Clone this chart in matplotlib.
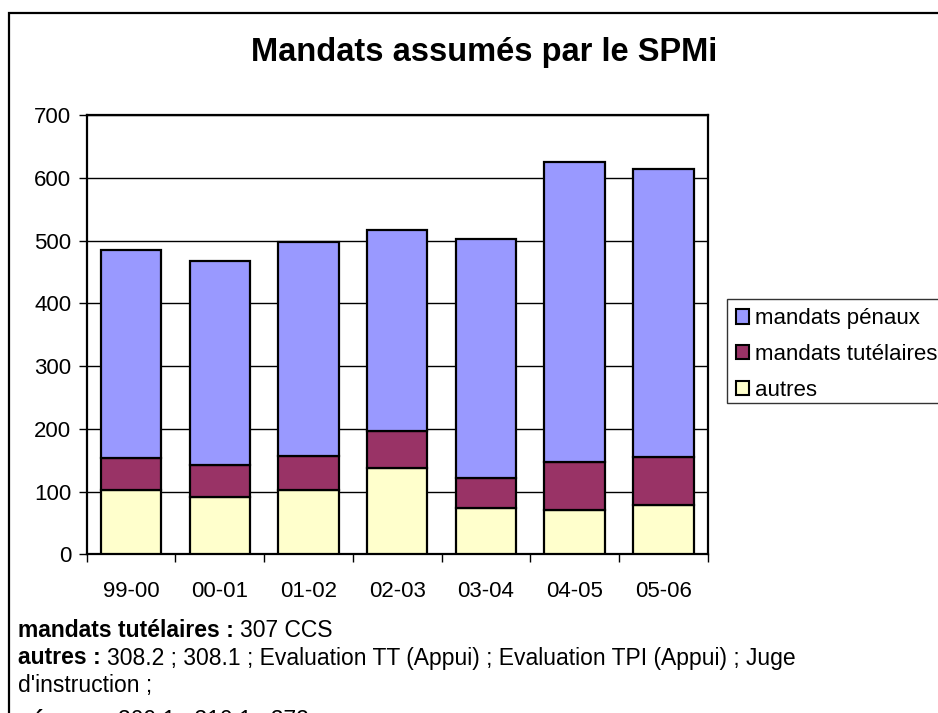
import matplotlib
matplotlib.use("Agg")
import matplotlib.pyplot as plt
from matplotlib.patches import Rectangle, Patch
import numpy as np

plt.rcParams['font.family'] = ['Liberation Sans', 'DejaVu Sans']

categories = ["99-00", "00-01", "01-02", "02-03", "03-04", "04-05", "05-06"]
autres = [102, 91, 102, 137, 74, 71, 78]
tutelaires = [51, 52, 54, 59, 47, 76, 77]
penaux = [332, 324, 342, 320, 382, 478, 459]
series_labels = ["mandats pénaux", "mandats tutélaires", "autres"]
title = "Mandats assumés par le SPMi"
yticks = [0, 100, 200, 300, 400, 500, 600, 700]

W, H = 938, 713
fig = plt.figure(figsize=(W / 100, H / 100), dpi=100)

# outer border
fig.patches.append(Rectangle((9 / W, -0.2), 1.2, 1.2 - 13 / H,
                             transform=fig.transFigure, fill=False,
                             edgecolor='black', linewidth=1.6))

ax = fig.add_axes([86.7 / W, 1 - 554.3 / H, (707.7 - 86.7) / W, (554.3 - 115) / H])
x = np.arange(len(categories))
bw = 0.68
ek = dict(edgecolor='black', linewidth=1.6, zorder=3)
ax.bar(x, autres, bw, color='#FFFFCC', **ek)
bottom2 = np.array(autres)
ax.bar(x, tutelaires, bw, bottom=bottom2, color='#993366', **ek)
bottom3 = bottom2 + np.array(tutelaires)
ax.bar(x, penaux, bw, bottom=bottom3, color='#9999FF', **ek)

ax.set_xlim(-0.5, len(categories) - 0.5)
ax.set_ylim(0, 700)
ax.set_yticks(yticks)
ax.yaxis.grid(True, color='black', linewidth=1.0, zorder=0)
ax.set_axisbelow(True)
ax.set_xticks(x)
ax.set_xticklabels(categories)
ax.set_xticks(np.arange(-0.5, len(categories)), minor=True)
ax.tick_params(axis='x', which='major', length=0, pad=19, labelsize=16)
ax.tick_params(axis='x', which='minor', length=6, width=1.0, direction='out')
ax.tick_params(axis='y', which='major', length=6, width=1.0, pad=5, labelsize=16)
for s in ax.spines.values():
    s.set_linewidth(1.6)
    s.set_color('black')

fig.text(484 / W, 1 - 53 / H, title, ha='center', va='center',
         fontsize=23.5, fontweight='bold')

# legend frame (drawn separately for exact placement)
fig.patches.append(Rectangle((726.7 / W, 1 - 403 / H), 0.5, (403 - 299) / H,
                             transform=fig.transFigure, fill=True, facecolor='white',
                             edgecolor='#333333', linewidth=1.0))
handles = [Patch(facecolor='#9999FF', edgecolor='black', linewidth=1.5),
           Patch(facecolor='#993366', edgecolor='black', linewidth=1.5),
           Patch(facecolor='#FFFFCC', edgecolor='black', linewidth=1.5)]
leg = fig.legend(handles, series_labels, loc='upper left',
                 bbox_to_anchor=(726.7 / W, 1 - 299 / H), fontsize=16,
                 handlelength=0.6, handleheight=0.6, handletextpad=0.25,
                 labelspacing=0.66, borderpad=0.42, borderaxespad=0,
                 frameon=False)

# footer notes
notes = [("mandats tutélaires : ", "307 CCS"),
         ("autres : ", "308.2 ; 308.1 ; Evaluation TT (Appui) ; Evaluation TPI (Appui) ; Juge"),
         ("", "d'instruction ;"),
         ("pénaux : ", "309.1 ; 310.1 ; 372")]
fig.canvas.draw()
renderer = fig.canvas.get_renderer()
baselines = [637, 664.5, 692, 727]
for (b, r), ybp in zip(notes, baselines):
    yb = 1 - ybp / H
    xs = 18 / W
    if b:
        t = fig.text(xs, yb, b, fontsize=16.5, fontweight='bold', va='baseline', ha='left')
        bb = t.get_window_extent(renderer)
        xs = bb.x1 / W
    fig.text(xs, yb, r, fontsize=16.5, va='baseline', ha='left')

fig.savefig("out.png", dpi=100)
